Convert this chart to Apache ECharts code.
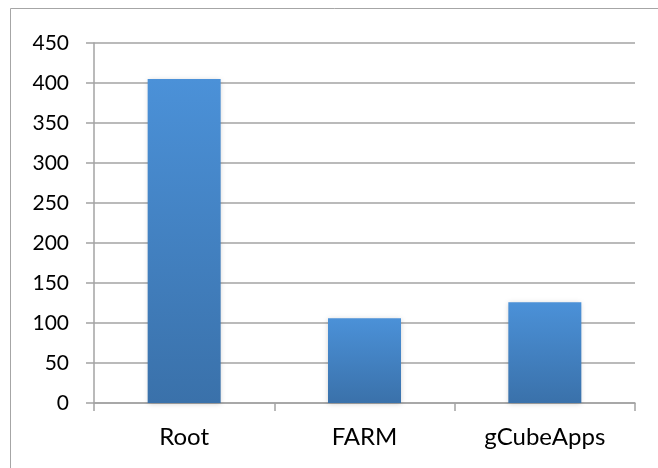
<!DOCTYPE html>
<html>
<head>
<meta charset="utf-8">
<script src="https://cdn.jsdelivr.net/npm/echarts@6/dist/echarts.min.js"></script>
<style>
  html, body { margin: 0; padding: 0; background: #fff; }
  #chart { width: 658px; height: 468px; }
</style>
</head>
<body>
<div id="chart"></div>
<script>
// Categories and counts shown as bars
const categories = ['Root', 'FARM', 'gCubeApps'];
const counts = [405, 106, 126];
const yTicks = { min: 0, max: 450, step: 50 };

const chart = echarts.init(document.getElementById('chart'), null, { renderer: 'canvas' });

const fontFamily = 'Lato, "Open Sans", sans-serif';
const lineGray = '#a3a3a3';

chart.setOption({
  animation: false,
  backgroundColor: '#ffffff',
  graphic: [{
    type: 'rect',
    shape: { x: 10.5, y: 8.5, width: 700, height: 500 },
    style: { fill: 'none', stroke: '#a6a6a6', lineWidth: 1 },
    silent: true,
    z: -1
  }],
  grid: { left: 94, right: 23, top: 43, bottom: 65, containLabel: false },
  xAxis: {
    type: 'category',
    data: categories,
    boundaryGap: true,
    axisLine: { show: true, lineStyle: { color: lineGray, width: 1.5 } },
    axisTick: { show: true, length: 8, alignWithLabel: false, lineStyle: { color: lineGray, width: 1.5 } },
    axisLabel: { color: '#000', fontSize: 24, fontFamily: fontFamily, margin: 22 },
    splitLine: { show: false }
  },
  yAxis: {
    type: 'value',
    min: yTicks.min,
    max: yTicks.max,
    interval: yTicks.step,
    axisLine: { show: true, lineStyle: { color: lineGray, width: 1.5 } },
    axisTick: { show: true, length: 8, lineStyle: { color: lineGray, width: 1.5 } },
    axisLabel: { color: '#000', fontSize: 21, fontFamily: fontFamily, margin: 25 },
    splitLine: { show: true, lineStyle: { color: lineGray, width: 1.5 } }
  },
  series: [{
    type: 'bar',
    data: counts,
    barWidth: 73,
    itemStyle: {
      color: new echarts.graphic.LinearGradient(0, 0, 0, 1, [
        { offset: 0, color: '#4b91d8' },
        { offset: 1, color: '#3a71aa' }
      ]),
      shadowColor: 'rgba(0,0,0,0.18)',
      shadowBlur: 5,
      shadowOffsetY: 1
    }
  }]
});
</script>
</body>
</html>
